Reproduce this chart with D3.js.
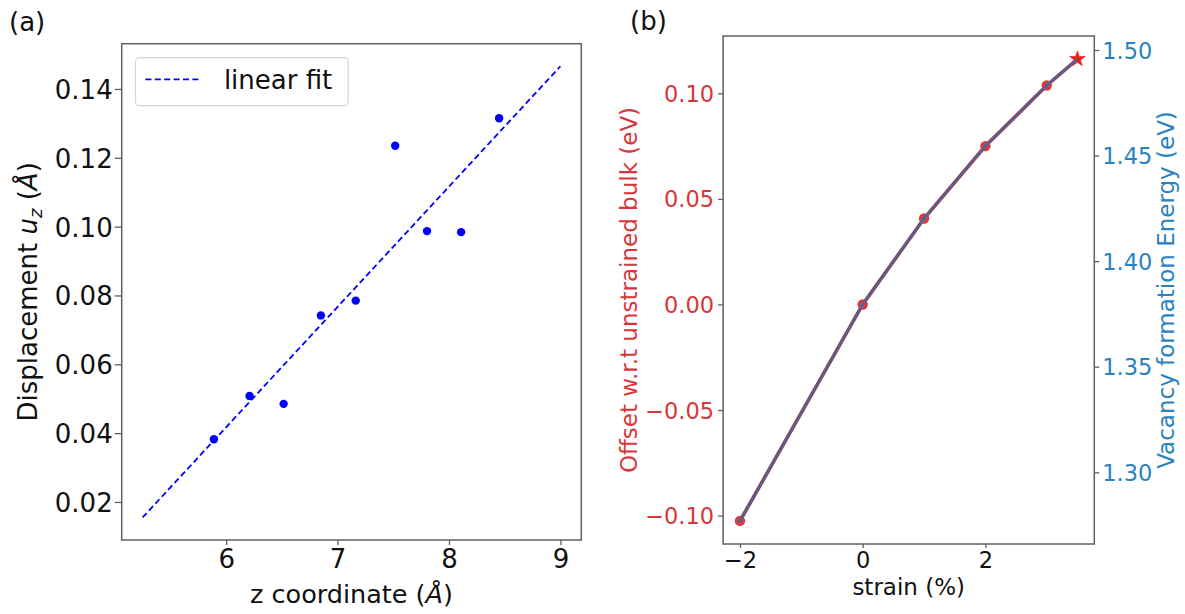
<!DOCTYPE html>
<html>
<head>
<meta charset="utf-8">
<script src="https://cdn.jsdelivr.net/npm/d3@7"></script>
<style>
  html, body { margin: 0; padding: 0; background: #fff; }
  svg { display: block; }
  text { font-family: "DejaVu Sans", sans-serif; }
</style>
</head>
<body>
<svg id="fig" width="1185" height="614"></svg>
<script>
// ---- panel (a): displacement vs z coordinate ----
const zCoord = [5.89, 6.21, 6.516, 6.85, 7.163, 7.517, 7.803, 8.109, 8.45];
const dispUz = [0.0382, 0.0508, 0.0485, 0.0742, 0.0785, 0.1235, 0.0987, 0.0984, 0.1315];
const fitZ = [5.25, 9.0];
const fitU = [0.0155, 0.1466];
const zTicks = [6, 7, 8, 9];
const uTicks = [0.02, 0.04, 0.06, 0.08, 0.10, 0.12, 0.14];

// ---- panel (b): strain dependence ----
const strain = [-2, 0, 1, 2, 3];
const offsetEV = [-0.1025, 0, 0.0407, 0.075, 0.1037];
const vacancyEV = [1.277, 1.3795, 1.4202, 1.4545, 1.4832];
const starStrain = 3.5;
const starOffset = 0.1162;
const starVacancy = 1.4957;
const strainTicks = [-2, 0, 2];
const offsetTicks = [-0.10, -0.05, 0.00, 0.05, 0.10];
const vacancyTicks = [1.30, 1.35, 1.40, 1.45, 1.50];

const RED = "#d9363a";
const BLUE = "#2a82c0";
const SPINE = "#606060";

const svg = d3.select("#fig");
svg.append("rect").attr("width", 1185).attr("height", 614).attr("fill", "#fff");

// pad a data extent by 5% on each side
function padded(vals) {
  const [lo, hi] = d3.extent(vals);
  const m = (hi - lo) * 0.05;
  return [lo - m, hi + m];
}

function styleAxis(g, color, fs) {
  g.select(".domain").remove();
  g.selectAll(".tick line").attr("stroke", SPINE).attr("stroke-width", 1.3);
  g.selectAll(".tick text").attr("fill", color).attr("font-size", fs)
    .attr("font-family", "DejaVu Sans, sans-serif");
}

// ================= panel (a) =================
{
  const L = 121.7, R = 581.3, T = 43.7, B = 540;
  const x = d3.scaleLinear().domain(padded(zCoord.concat(fitZ))).range([L, R]);
  const y = d3.scaleLinear().domain(padded(dispUz.concat(fitU))).range([B, T]);
  const g = svg.append("g");

  // fit line
  g.append("path")
    .datum(fitZ.map((z, i) => [z, fitU[i]]))
    .attr("d", d3.line().x(d => x(d[0])).y(d => y(d[1])))
    .attr("fill", "none").attr("stroke", "#0000ff").attr("stroke-width", 1.8)
    .attr("stroke-dasharray", "6,3.4");

  // data points
  g.selectAll("circle.pt").data(zCoord).join("circle")
    .attr("class", "pt")
    .attr("cx", (d) => x(d)).attr("cy", (d, i) => y(dispUz[i]))
    .attr("r", 4.2).attr("fill", "#0000ff");

  // axes
  const ax = g.append("g").attr("transform", `translate(0,${B})`)
    .call(d3.axisBottom(x).tickValues(zTicks).tickFormat(d3.format("d")).tickSize(5).tickPadding(5));
  styleAxis(ax, "#111", 26);
  const ay = g.append("g").attr("transform", `translate(${L},0)`)
    .call(d3.axisLeft(y).tickValues(uTicks).tickFormat(d3.format(".2f")).tickSize(7).tickPadding(2));
  styleAxis(ay, "#111", 26);
  ay.selectAll(".tick text").attr("dy", "0.36em");

  g.append("rect").attr("x", L).attr("y", T).attr("width", R - L).attr("height", B - T)
    .attr("fill", "none").attr("stroke", SPINE).attr("stroke-width", 1.5);

  // legend
  const lg = g.append("g");
  lg.append("rect").attr("x", 135.5).attr("y", 57.7).attr("width", 212.7).attr("height", 48)
    .attr("rx", 4).attr("fill", "#fff").attr("stroke", "#d4d4d4").attr("stroke-width", 1.2);
  lg.append("line").attr("x1", 145.4).attr("x2", 201.7).attr("y1", 79.3).attr("y2", 79.3)
    .attr("stroke", "#0000ff").attr("stroke-width", 1.8).attr("stroke-dasharray", "6,3.4");
  lg.append("text").attr("x", 223.9).attr("y", 88.5).attr("font-size", 26).attr("fill", "#111")
    .text("linear fit");

  // axis labels
  g.append("text").attr("x", (L + R) / 2).attr("y", 603).attr("text-anchor", "middle")
    .attr("font-size", 25.5).attr("fill", "#111")
    .call(t => {
      t.append("tspan").text("z coordinate (");
      t.append("tspan").attr("font-style", "italic").text("Å");
      t.append("tspan").text(")");
    });
  g.append("text").attr("transform", `translate(37,${(T + B) / 2}) rotate(-90)`)
    .attr("text-anchor", "middle").attr("font-size", 26).attr("fill", "#111")
    .call(t => {
      t.append("tspan").text("Displacement ");
      t.append("tspan").attr("font-style", "italic").text("u");
      t.append("tspan").attr("font-style", "italic").attr("font-size", 18).attr("dy", 5).text("z");
      t.append("tspan").attr("dy", -5).text(" (");
      t.append("tspan").attr("font-style", "italic").text("Å");
      t.append("tspan").text(")");
    });

  svg.append("text").attr("x", 9).attr("y", 31).attr("font-size", 26)
    .attr("font-family", "Open Sans, sans-serif").attr("fill", "#111").text("(a)");
}

// ================= panel (b) =================
{
  const L = 723.1, R = 1094.3, T = 36, B = 544;
  const allStrain = strain.concat([starStrain]);
  const x = d3.scaleLinear().domain(padded(allStrain)).range([L, R]);
  const yL = d3.scaleLinear().domain(padded(offsetEV.concat([starOffset]))).range([B, T]);
  const yR = d3.scaleLinear().domain(padded(vacancyEV.concat([starVacancy]))).range([B, T]);
  const g = svg.append("g");

  const offPts = allStrain.map((s, i) => [s, i < strain.length ? offsetEV[i] : starOffset]);
  const vacPts = allStrain.map((s, i) => [s, i < strain.length ? vacancyEV[i] : starVacancy]);

  // offset curve (red) with circle markers
  g.append("path").datum(offPts)
    .attr("d", d3.line().x(d => x(d[0])).y(d => yL(d[1])))
    .attr("fill", "none").attr("stroke", "#d62728").attr("stroke-width", 3.6);
  g.selectAll("circle.off").data(strain).join("circle").attr("class", "off")
    .attr("cx", d => x(d)).attr("cy", (d, i) => yL(offsetEV[i]))
    .attr("r", 5.2).attr("fill", "#e0393c");
  g.append("path")
    .attr("d", d3.symbol(d3.symbolStar, 75)())
    .attr("transform", `translate(${x(starStrain)},${yL(starOffset)})`)
    .attr("fill", "#f01c1c").attr("stroke", "#e83030").attr("stroke-width", 0.8);

  // vacancy formation energy curve (blue) on the right axis
  g.append("path").datum(vacPts)
    .attr("d", d3.line().x(d => x(d[0])).y(d => yR(d[1])))
    .attr("fill", "none").attr("stroke", "#1f77b4").attr("stroke-opacity", 0.8)
    .attr("stroke-width", 2.4);
  g.selectAll("circle.vac").data(strain).join("circle").attr("class", "vac")
    .attr("cx", d => x(d)).attr("cy", (d, i) => yR(vacancyEV[i]))
    .attr("r", 1.8).attr("fill", "#3a6aa8");

  // axes
  const ax = g.append("g").attr("transform", `translate(0,${B})`)
    .call(d3.axisBottom(x).tickValues(strainTicks).tickFormat(d3.format("d")).tickSize(4).tickPadding(4));
  styleAxis(ax, "#111", 22.5);
  const ayL = g.append("g").attr("transform", `translate(${L},0)`)
    .call(d3.axisLeft(yL).tickValues(offsetTicks).tickFormat(d3.format(".2f")).tickSize(5).tickPadding(4));
  styleAxis(ayL, RED, 22.5);
  ayL.selectAll(".tick text").attr("dy", "0.36em");
  const ayR = g.append("g").attr("transform", `translate(${R},0)`)
    .call(d3.axisRight(yR).tickValues(vacancyTicks).tickFormat(d3.format(".2f")).tickSize(5).tickPadding(3));
  styleAxis(ayR, BLUE, 22.5);
  ayR.selectAll(".tick text").attr("dy", "0.36em");

  g.append("rect").attr("x", L).attr("y", T).attr("width", R - L).attr("height", B - T)
    .attr("fill", "none").attr("stroke", SPINE).attr("stroke-width", 1.5);

  // axis labels
  g.append("text").attr("x", (L + R) / 2).attr("y", 595).attr("text-anchor", "middle")
    .attr("font-size", 23).attr("fill", "#111").text("strain (%)");
  g.append("text").attr("transform", `translate(637,${(T + B) / 2}) rotate(-90)`)
    .attr("text-anchor", "middle").attr("font-size", 23).attr("fill", RED)
    .text("Offset w.r.t unstrained bulk (eV)");
  g.append("text").attr("transform", `translate(1173.5,${(T + B) / 2}) rotate(-90)`)
    .attr("text-anchor", "middle").attr("font-size", 23).attr("fill", BLUE)
    .text("Vacancy formation Energy (eV)");

  svg.append("text").attr("x", 630).attr("y", 30).attr("font-size", 26)
    .attr("font-family", "Open Sans, sans-serif").attr("fill", "#111").text("(b)");
}
</script>
</body>
</html>
